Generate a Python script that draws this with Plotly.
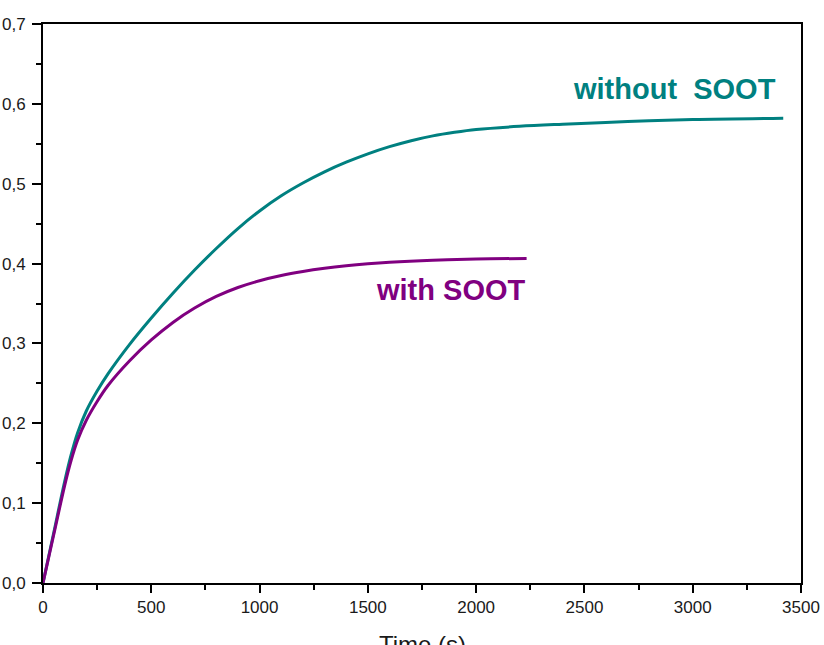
import plotly.graph_objects as go

# Data
t_without = [0, 50, 100, 130, 160, 200, 250, 300, 400, 500, 600, 700, 800, 900, 1000, 1100, 1200,
             1300, 1400, 1500, 1600, 1700, 1800, 1900, 2000, 2200, 2400, 2700, 3000, 3418]
v_without = [0.0, 0.0635, 0.127, 0.1606, 0.1882, 0.2154, 0.2404, 0.2619, 0.2989, 0.3319, 0.3629,
             0.3919, 0.4189, 0.4439, 0.4659, 0.4849, 0.5009, 0.5149, 0.5269, 0.5374, 0.5464,
             0.5539, 0.5599, 0.5644, 0.5679, 0.5719, 0.5745, 0.5778, 0.5804, 0.5821]

t_with = [0, 50, 100, 130, 160, 200, 250, 300, 400, 500, 600, 700, 800, 900, 1000, 1100, 1200, 1300,
          1400, 1500, 1600, 1800, 2000, 2233]
v_with = [0.0, 0.061, 0.122, 0.1535, 0.179, 0.2038, 0.2273, 0.2473, 0.2783, 0.3043, 0.3263, 0.3443,
          0.3588, 0.3700, 0.3785, 0.3850, 0.3900, 0.3940, 0.3972, 0.3997, 0.4016, 0.4041, 0.4056,
          0.4064]

x_tickvals = [0, 500, 1000, 1500, 2000, 2500, 3000, 3500]
x_ticktext = ["0", "500", "1000", "1500", "2000", "2500", "3000", "3500"]
x_minor = [250, 750, 1250, 1750, 2250, 2750, 3250]
y_tickvals = [0.0, 0.1, 0.2, 0.3, 0.4, 0.5, 0.6, 0.7]
y_ticktext = ["0,0", "0,1", "0,2", "0,3", "0,4", "0,5", "0,6", "0,7"]
y_minor = [0.05, 0.15, 0.25, 0.35, 0.45, 0.55, 0.65]

TEAL = "#008080"
PURPLE = "#800080"
GREEN = "#5fae6a"
font_family = "Liberation Sans, Arial, sans-serif"

fig = go.Figure()
fig.add_trace(go.Scatter(x=t_without, y=v_without, mode="lines",
                         line=dict(color=TEAL, width=3, shape="spline", smoothing=1),
                         name="without SOOT"))
fig.add_trace(go.Scatter(x=t_with, y=v_with, mode="lines",
                         line=dict(color=PURPLE, width=3, shape="spline", smoothing=1),
                         name="with SOOT"))

axis_common = dict(showgrid=False, zeroline=False, showline=True, linecolor="black",
                   linewidth=2, mirror=True, ticks="outside", tickwidth=2,
                   tickcolor="black", automargin=False,
                   tickfont=dict(size=17, family=font_family, color="#1a1a1a"))

fig.update_layout(
    width=824, height=645,
    margin=dict(l=43, r=23, t=24, b=62),
    paper_bgcolor="white", plot_bgcolor="white",
    showlegend=False,
    font=dict(family=font_family, color="#1a1a1a", size=17),
    xaxis=dict(range=[0, 3500], tickvals=x_tickvals, ticktext=x_ticktext, ticklen=8,
               minor=dict(tickvals=x_minor, ticks="outside", ticklen=5, tickwidth=2,
                          tickcolor="black"),
               **axis_common),
    yaxis=dict(range=[0, 0.7], tickvals=y_tickvals, ticktext=y_ticktext, ticklen=9,
               ticklabelstandoff=3,
               minor=dict(tickvals=y_minor, ticks="outside", ticklen=5, tickwidth=2,
                          tickcolor="black"),
               **axis_common),
)

def px_to_paper(px, py):
    x0, x1, y0, y1 = 43, 801, 583, 24
    return (px - x0) / (x1 - x0), (y0 - py) / (y0 - y1)

for text, px, py, color, size, anchor in [
    ("<b>without  SOOT</b>", 674, 89, TEAL, 29, "middle"),
    ("<b>with SOOT</b>", 451, 290, PURPLE, 29, "middle"),
    ("Time (s)", 422, 629, "#1a1a1a", 24, "top"),
    ("G", 160, 3, GREEN, 40, "bottom"),
    ("x", 806, 7, GREEN, 26, "bottom"),
]:
    ax, ay = px_to_paper(px, py)
    fig.add_annotation(x=ax, y=ay, xref="paper", yref="paper", text=text,
                       showarrow=False, xanchor="center", yanchor=anchor,
                       font=dict(color=color, size=size, family=font_family))

fig.write_html("out.html")
